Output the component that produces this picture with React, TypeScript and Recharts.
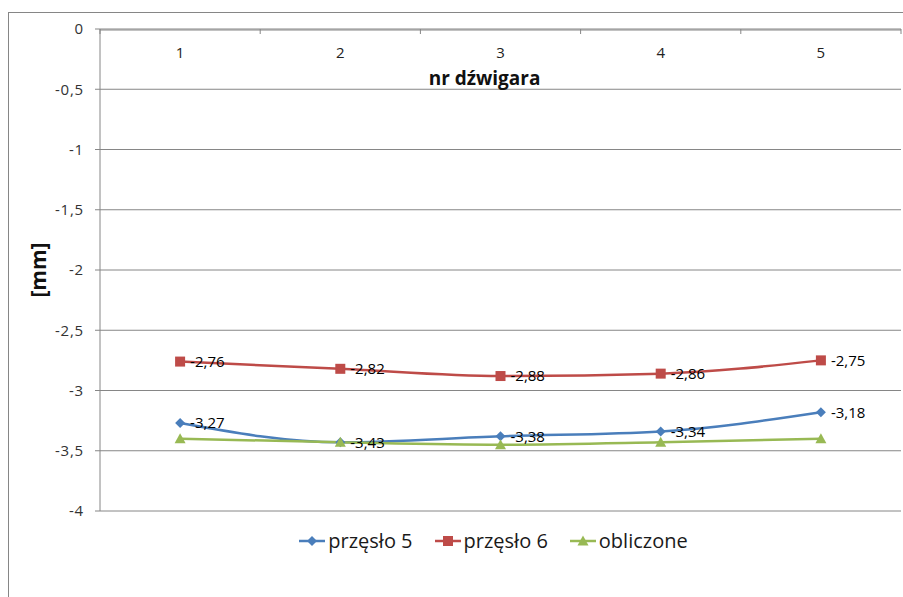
import React from 'react';
import { LineChart, Line, XAxis, YAxis, CartesianGrid, LabelList, Legend } from 'recharts';

const girders = [1, 2, 3, 4, 5];
const przeslo5 = [-3.27, -3.43, -3.38, -3.34, -3.18];
const przeslo6 = [-2.76, -2.82, -2.88, -2.86, -2.75];
const obliczone = [-3.4, -3.43, -3.45, -3.43, -3.4];
const yTicks = [0, -0.5, -1, -1.5, -2, -2.5, -3, -3.5, -4];
const boundaryTicks = [0.5, 1.5, 2.5, 3.5, 4.5, 5.5];
const seriesNames = ['przęsło 5', 'przęsło 6', 'obliczone'];

const BLUE = '#4A7EBB';
const RED = '#BE4B48';
const GREEN = '#98B954';
const GRID = '#868686';
const FONT = '"Open Sans", "Noto Sans", sans-serif';

const data = girders.map((nr, i) => ({ nr, p5: przeslo5[i], p6: przeslo6[i], obl: obliczone[i] }));

const fmt = (v: number) => String(v).replace('.', ',');
const fmt2 = (v: any) => Number(v).toFixed(2).replace('.', ',');

const Diamond = (p: any) => {
  const { cx, cy, fill } = p;
  if (cx == null || cy == null) return null;
  return <polygon points={`${cx},${cy - 5} ${cx + 5},${cy} ${cx},${cy + 5} ${cx - 5},${cy}`} fill={fill} />;
};
const Square = (p: any) => {
  const { cx, cy, fill } = p;
  if (cx == null || cy == null) return null;
  return <rect x={cx - 5} y={cy - 5} width={10} height={10} fill={fill} />;
};
const Triangle = (p: any) => {
  const { cx, cy, fill } = p;
  if (cx == null || cy == null) return null;
  return <polygon points={`${cx},${cy - 5.5} ${cx + 5.5},${cy + 4.5} ${cx - 5.5},${cy + 4.5}`} fill={fill} />;
};

const markers = [Diamond, Square, Triangle];
const colors = [BLUE, RED, GREEN];

const LegendContent = () => (
  <div style={{ display: 'flex', justifyContent: 'center', alignItems: 'center', fontFamily: FONT, fontSize: 20, color: '#1a1a1a' }}>
    {seriesNames.map((name, i) => {
      const M = markers[i];
      return (
        <div key={name} style={{ display: 'flex', alignItems: 'center', marginRight: i < 2 ? 22 : 0 }}>
          <svg width={26} height={14} style={{ marginRight: 3 }}>
            <line x1={0} y1={7} x2={26} y2={7} stroke={colors[i]} strokeWidth={2.5} />
            <M cx={13} cy={7} fill={colors[i]} />
          </svg>
          <span>{name}</span>
        </div>
      );
    })}
  </div>
);

export default function App() {
  return (
    <div style={{ position: 'absolute', left: 0, top: 0, width: 903, height: 597, overflow: 'hidden', background: '#fff' }}>
      <div style={{ position: 'absolute', left: 8, top: 12, width: 1000, height: 1000, border: `1px solid ${GRID}`, boxSizing: 'border-box' }} />
      <div style={{ position: 'absolute', left: 0, top: 0 }}>
        <LineChart width={903} height={597} data={data} margin={{ top: 29, right: 2, bottom: 86, left: 0 }}>
          <CartesianGrid vertical={false} stroke={GRID} strokeWidth={1} />
          <XAxis
            xAxisId="main"
            dataKey="nr"
            type="number"
            domain={[0.5, 5.5]}
            allowDataOverflow
            ticks={girders}
            orientation="top"
            mirror
            height={1}
            tickSize={0}
            tickMargin={17}
            axisLine={{ stroke: GRID }}
            tick={{ fill: '#222', fontSize: 15, fontFamily: FONT }}
            label={{ value: 'nr dźwigara', position: 'center', dy: 48, dx: -16, fill: '#111', fontSize: 19, fontWeight: 700, fontFamily: FONT }}
          />
          <XAxis
            xAxisId="bounds"
            dataKey="nr"
            type="number"
            domain={[0.5, 5.5]}
            allowDataOverflow
            ticks={boundaryTicks}
            orientation="top"
            mirror
            height={1}
            tickSize={5}
            tickFormatter={() => ''}
            tick={{ fontSize: 1 }}
            axisLine={false}
            tickLine={{ stroke: GRID }}
          />
          <YAxis
            type="number"
            domain={[-4, 0]}
            ticks={yTicks}
            interval={0}
            width={100}
            tickSize={5}
            tickMargin={11}
            tickFormatter={fmt}
            axisLine={{ stroke: GRID }}
            tickLine={{ stroke: GRID }}
            tick={{ fill: '#333', fontSize: 15, fontFamily: FONT, letterSpacing: 0.8 }}
            label={{ value: '[mm]', angle: -90, position: 'center', dx: -11, fill: '#111', fontSize: 21, fontWeight: 700, fontFamily: FONT }}
          />
          <Legend
            layout="horizontal"
            verticalAlign="middle"
            align="center"
            content={<LegendContent />}
            wrapperStyle={{ position: 'absolute', top: 527, left: 86, width: 815 }}
          />
          <Line
            xAxisId="main"
            dataKey="p5"
            name={seriesNames[0]}
            type="monotone"
            stroke={BLUE}
            strokeWidth={2.5}
            isAnimationActive={false}
            dot={(p: any) => <Diamond key={`d5-${p.index}`} cx={p.cx} cy={p.cy} fill={BLUE} />}
            activeDot={false}
          >
            <LabelList dataKey="p5" position="right" offset={10} formatter={fmt2} fill="#000" fontSize={15} fontFamily={FONT} />
          </Line>
          <Line
            xAxisId="main"
            dataKey="p6"
            name={seriesNames[1]}
            type="monotone"
            stroke={RED}
            strokeWidth={2.5}
            isAnimationActive={false}
            dot={(p: any) => <Square key={`d6-${p.index}`} cx={p.cx} cy={p.cy} fill={RED} />}
            activeDot={false}
          >
            <LabelList dataKey="p6" position="right" offset={10} formatter={fmt2} fill="#000" fontSize={15} fontFamily={FONT} />
          </Line>
          <Line
            xAxisId="main"
            dataKey="obl"
            name={seriesNames[2]}
            type="monotone"
            stroke={GREEN}
            strokeWidth={2.5}
            isAnimationActive={false}
            dot={(p: any) => <Triangle key={`dt-${p.index}`} cx={p.cx} cy={p.cy} fill={GREEN} />}
            activeDot={false}
          />
        </LineChart>
      </div>
    </div>
  );
}
